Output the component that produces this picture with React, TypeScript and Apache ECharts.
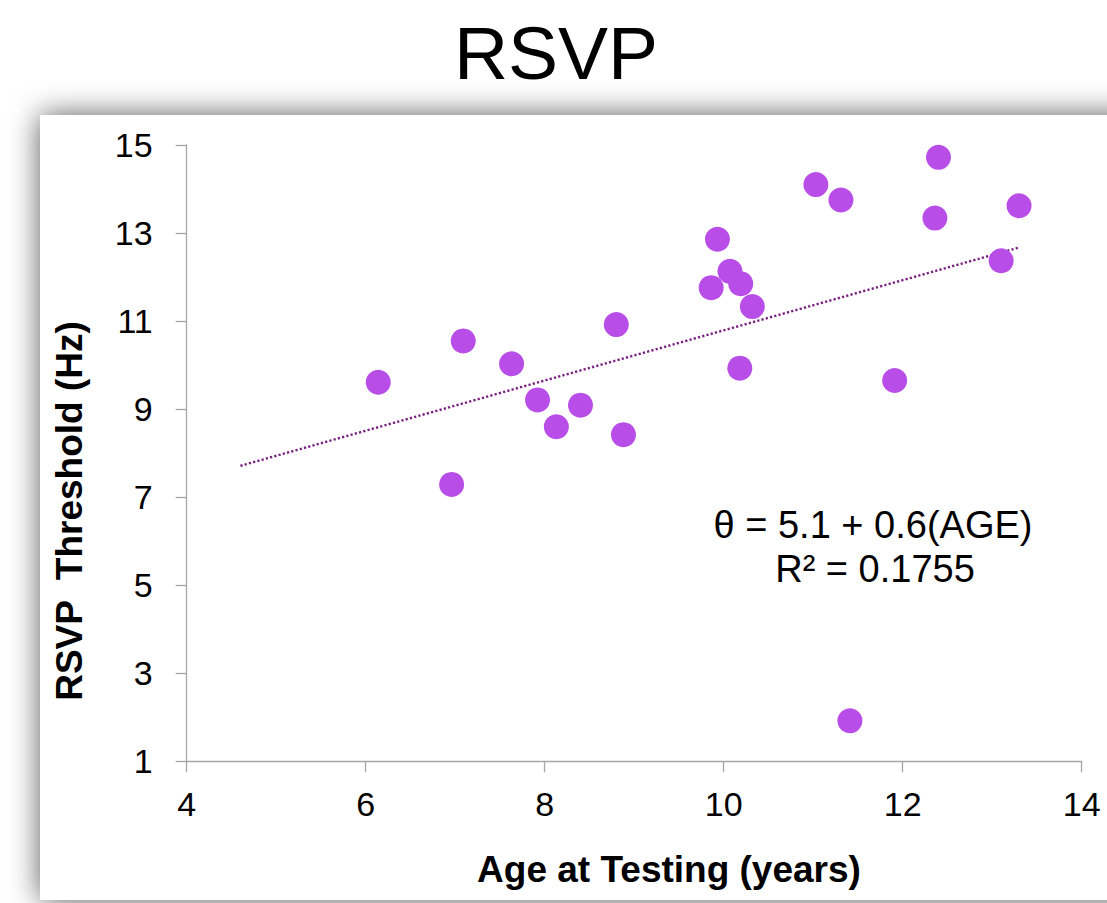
import React, { useEffect, useRef } from "react";
import * as echarts from "echarts";

const ages: number[] = [6.14, 6.96, 7.09, 7.63, 7.92, 8.13, 8.4, 8.8, 8.88, 9.86, 9.93, 10.07, 10.19, 10.18, 10.32, 11.03, 11.31, 11.41, 11.91, 12.36, 12.4, 13.1, 13.3];
const thresholds: number[] = [9.61, 7.29, 10.55, 10.03, 9.21, 8.6, 9.09, 10.92, 8.42, 11.76, 12.86, 12.13, 11.85, 9.93, 11.33, 14.1, 13.75, 1.92, 9.65, 13.34, 14.72, 12.37, 13.62];
const trendIntercept = 5.09;
const trendSlope = 0.57;
const trendRange: number[] = [4.6, 13.3];
const xTicks = { min: 4, max: 14, interval: 2 };
const yTicks = { min: 1, max: 15, interval: 2 };

const FONT = "'Liberation Sans', Arial, Helvetica, sans-serif";

export default function App() {
  const ref = useRef<HTMLDivElement>(null);
  useEffect(() => {
    if (!ref.current) return;
    const chart = echarts.init(ref.current, undefined, { renderer: "svg" });
    const points = ages.map((a, i) => [a, thresholds[i]]);
    const trend = trendRange.map((x) => [x, trendIntercept + trendSlope * x]);
    chart.setOption({
      animation: false,
      backgroundColor: "#ffffff",
      grid: { left: 186.7, right: 25.3, top: 145, bottom: 141.7, containLabel: false },
      graphic: [
        {
          type: "rect",
          z: -100,
          shape: { x: 40, y: 115, width: 1200, height: 785 },
          style: { fill: "#ffffff", shadowBlur: 30, shadowColor: "rgba(0,0,0,0.65)", shadowOffsetX: 0, shadowOffsetY: 0 },
        },
        {
          type: "text",
          x: 556,
          y: 53,
          style: { text: "RSVP", font: `75px ${FONT}`, fill: "#000", align: "center", verticalAlign: "middle" },
        },
        {
          type: "text",
          x: 669,
          y: 869,
          style: { text: "Age at Testing (years)", font: `bold 37px ${FONT}`, fill: "#000", align: "center", verticalAlign: "middle" },
        },
        {
          type: "text",
          x: 69,
          y: 511,
          rotation: Math.PI / 2,
          style: { text: "RSVP  Threshold (Hz)", font: `bold 37px ${FONT}`, fill: "#000", align: "center", verticalAlign: "middle" },
        },
        {
          type: "text",
          x: 873,
          y: 525,
          style: { text: "θ = 5.1 + 0.6(AGE)", font: `38px ${FONT}`, fill: "#000", align: "center", verticalAlign: "middle" },
        },
        {
          type: "text",
          x: 875,
          y: 569,
          style: { text: "R² = 0.1755", font: `38px ${FONT}`, fill: "#000", align: "center", verticalAlign: "middle" },
        },
      ],
      xAxis: {
        type: "value",
        min: xTicks.min,
        max: xTicks.max,
        interval: xTicks.interval,
        splitLine: { show: false },
        axisLine: { show: true, onZero: false, lineStyle: { color: "#a6a6a6", width: 1.3 } },
        axisTick: { show: true, length: 11, inside: false, lineStyle: { color: "#a6a6a6", width: 1.3 } },
        axisLabel: { fontSize: 34, fontFamily: FONT, color: "#000", margin: 26 },
      },
      yAxis: {
        type: "value",
        min: yTicks.min,
        max: yTicks.max,
        interval: yTicks.interval,
        splitLine: { show: false },
        axisLine: { show: true, onZero: false, lineStyle: { color: "#a6a6a6", width: 1.3 } },
        axisTick: { show: true, length: 11, inside: false, lineStyle: { color: "#a6a6a6", width: 1.3 } },
        axisLabel: { fontSize: 34, fontFamily: FONT, color: "#000", margin: 34 },
      },
      series: [
        {
          type: "line",
          data: trend,
          symbol: "none",
          z: 3,
          lineStyle: { color: "#7a1f82", width: 2.4, type: [2.2, 2.2] },
        },
        {
          type: "scatter",
          data: points,
          symbol: "circle",
          symbolSize: 25,
          z: 4,
          itemStyle: { color: "#b84de8", opacity: 1 },
        },
      ],
    });
    return () => chart.dispose();
  }, []);
  return <div ref={ref} style={{ position: "absolute", left: 0, top: 0, width: 1107, height: 903 }} />;
}
